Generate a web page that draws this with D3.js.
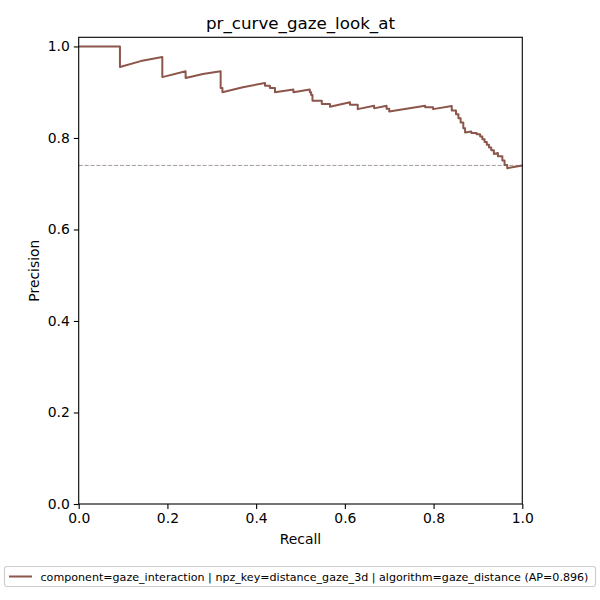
<!DOCTYPE html>
<html>
<head>
<meta charset="utf-8">
<script src="https://cdn.jsdelivr.net/npm/d3@7"></script>
<style>
  body { margin: 0; background: #fff; }
  text { font-family: "DejaVu Sans", sans-serif; fill: #000; }
</style>
</head>
<body>
<div id="container"></div>
<script>
const titleText = "pr_curve_gaze_look_at";
const legendText = "component=gaze_interaction | npz_key=distance_gaze_3d | algorithm=gaze_distance (AP=0.896)";
const baseline = 0.740;

const recall = [
  0, 0.093, 0.093, 0.14, 0.1885, 0.1885, 0.241, 0.241, 0.28, 0.320,
  0.320, 0.324, 0.324, 0.37, 0.420, 0.420, 0.431, 0.431, 0.4425, 0.4425,
  0.484, 0.484, 0.521, 0.521, 0.524, 0.524, 0.527, 0.527, 0.548, 0.548,
  0.5665, 0.5665, 0.6116, 0.6116, 0.629, 0.629, 0.666, 0.666, 0.694, 0.694,
  0.700, 0.700, 0.781, 0.781, 0.799, 0.799, 0.841, 0.841, 0.8505, 0.8505,
  0.856, 0.856, 0.861, 0.861, 0.867, 0.867, 0.871, 0.871, 0.885, 0.885,
  0.897, 0.897, 0.905, 0.905, 0.910, 0.910, 0.915, 0.915, 0.920, 0.920,
  0.925, 0.925, 0.930, 0.930, 0.936, 0.936, 0.945, 0.945, 0.955, 0.955,
  0.960, 0.960, 0.966, 0.966, 1.0
];
const precision = [
  1.0, 1.0, 0.955, 0.968, 0.977, 0.933, 0.946, 0.931, 0.940, 0.946,
  0.909, 0.909, 0.900, 0.911, 0.920, 0.914, 0.914, 0.909, 0.909, 0.900,
  0.906, 0.900, 0.906, 0.900, 0.900, 0.894, 0.894, 0.8815, 0.8815, 0.874,
  0.874, 0.868, 0.878, 0.8728, 0.8728, 0.863, 0.8706, 0.8647, 0.8706, 0.864,
  0.864, 0.858, 0.8706, 0.867, 0.867, 0.863, 0.870, 0.860, 0.860, 0.852,
  0.852, 0.843, 0.843, 0.834, 0.834, 0.821, 0.821, 0.812, 0.814, 0.811,
  0.811, 0.808, 0.808, 0.803, 0.803, 0.797, 0.797, 0.791, 0.791, 0.785,
  0.785, 0.779, 0.779, 0.773, 0.773, 0.765, 0.767, 0.760, 0.760, 0.751,
  0.751, 0.741, 0.741, 0.734, 0.740
];
const xTicks = [0, 0.2, 0.4, 0.6, 0.8, 1.0];
const yTicks = [0, 0.2, 0.4, 0.6, 0.8, 1.0];

const W = 600, H = 600;
const margin = { top: 37.3, right: 77.7, bottom: 96, left: 78.7 };
const w = W - margin.left - margin.right;
const h = H - margin.top - margin.bottom;
const color = "#8c564b";

const data = recall.map((r, i) => ({ r: r, p: precision[i] }));

const svg = d3.select("#container")
  .append("svg")
  .attr("width", W)
  .attr("height", H);

const g = svg.append("g")
  .attr("transform", `translate(${margin.left},${margin.top})`);

const xScale = d3.scaleLinear().domain([0, 1]).range([0, w]);
const yScale = d3.scaleLinear().domain([0, 1.02]).range([h, 0]);

// baseline (prevalence)
g.append("line")
  .attr("x1", xScale(0)).attr("x2", xScale(1))
  .attr("y1", yScale(baseline)).attr("y2", yScale(baseline))
  .attr("stroke", "#8a7874")
  .attr("stroke-opacity", 0.75)
  .attr("stroke-width", 1.0)
  .attr("stroke-dasharray", "4.1,1.8");

const line = d3.line()
  .x((d) => xScale(d.r))
  .y((d) => yScale(d.p));

g.append("path")
  .datum(data)
  .attr("fill", "none")
  .attr("stroke", color)
  .attr("stroke-width", 2.0)
  .attr("stroke-linejoin", "round")
  .attr("d", line);

// axes
const xAxis = g.append("g")
  .attr("transform", `translate(0,${h})`)
  .call(d3.axisBottom(xScale).tickValues(xTicks).tickFormat(d3.format(".1f")).tickSize(4.9).tickPadding(4));
const yAxis = g.append("g")
  .call(d3.axisLeft(yScale).tickValues(yTicks).tickFormat(d3.format(".1f")).tickSize(4.9).tickPadding(4));

[xAxis, yAxis].forEach((ax) => {
  ax.select(".domain").remove();
  ax.selectAll(".tick line").attr("stroke", "#000").attr("stroke-width", 1.1);
  ax.selectAll(".tick text")
    .attr("font-family", "DejaVu Sans")
    .attr("font-size", 13.9)
    .attr("fill", "#000");
});

g.append("rect")
  .attr("x", 0).attr("y", 0)
  .attr("width", w).attr("height", h)
  .attr("fill", "none")
  .attr("stroke", "#000")
  .attr("stroke-width", 1.1);

// labels
svg.append("text")
  .attr("x", margin.left + w / 2)
  .attr("y", 29)
  .attr("text-anchor", "middle")
  .attr("font-size", 16.7)
  .text(titleText);

svg.append("text")
  .attr("x", margin.left + w / 2)
  .attr("y", 544)
  .attr("text-anchor", "middle")
  .attr("font-size", 13.9)
  .text("Recall");

svg.append("text")
  .attr("transform", `translate(38.5,${margin.top + h / 2}) rotate(-90)`)
  .attr("text-anchor", "middle")
  .attr("font-size", 13.9)
  .text("Precision");

// legend
const leg = svg.append("g");
leg.append("rect")
  .attr("x", 4.5).attr("y", 566.5)
  .attr("width", 591).attr("height", 20)
  .attr("rx", 2.5)
  .attr("fill", "#fff")
  .attr("fill-opacity", 0.8)
  .attr("stroke", "#ccc")
  .attr("stroke-width", 1.1);
leg.append("line")
  .attr("x1", 9).attr("x2", 32)
  .attr("y1", 576.5).attr("y2", 576.5)
  .attr("stroke", color)
  .attr("stroke-width", 2.0);
leg.append("text")
  .attr("x", 40.5)
  .attr("y", 580.5)
  .attr("font-size", 11.1)
  .text(legendText);
</script>
</body>
</html>
